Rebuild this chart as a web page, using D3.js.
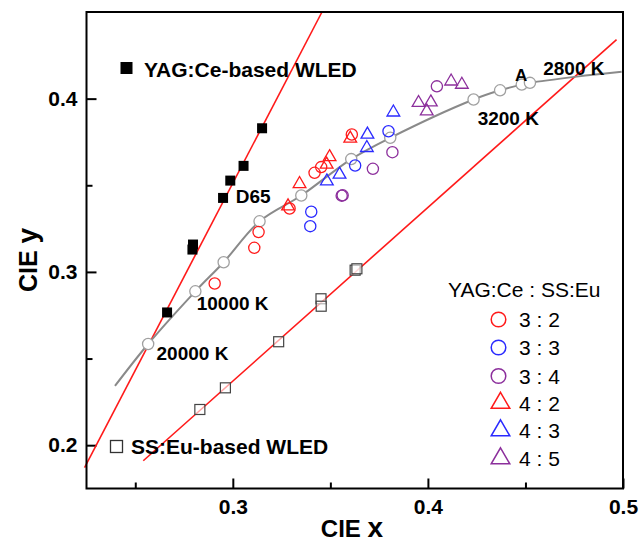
<!DOCTYPE html>
<html><head><meta charset="utf-8">
<script src="https://cdn.jsdelivr.net/npm/d3@7"></script>
<style>body{margin:0;background:#fff} text{font-family:"Liberation Sans",Arial,Helvetica,sans-serif}</style>
</head><body><svg id="c" width="641" height="544"></svg>
<script>
// ---- data ----
const xTicks = [0.3, 0.4, 0.5];
const xMinor = [0.25, 0.35, 0.45];
const yTicks = [0.2, 0.3, 0.4];
const yMinor = [0.25, 0.35];

const yagWLED = [[0.3150,0.3829],[0.3055,0.3612],[0.2987,0.3527],[0.2950,0.3427],[0.2796,0.3158],[0.2793,0.3129],[0.2663,0.2766]];
const ssWLED  = [[0.3627,0.3010],[0.3636,0.3018],[0.3452,0.2845],[0.3453,0.2802],[0.3235,0.2597],[0.2962,0.2331],[0.2831,0.2206]];
const yagLine = [[0.2240,0.1870],[0.3457,0.4500]];
const ssLine  = [[0.2541,0.1910],[0.4967,0.4341]];

const locusCurve = [[0.2396,0.2342],[0.2566,0.2584],[0.2808,0.2888],[0.2953,0.3056],[0.3137,0.3292],[0.3351,0.3441],[0.3607,0.3651],[0.3807,0.3774],[0.4234,0.3995],[0.4370,0.4048],[0.4481,0.4081],[0.4523,0.4091],[0.4763,0.4127],[0.4993,0.4155]];
const locusPoints = [[0.2566,0.2584],[0.2808,0.2888],[0.2953,0.3056],[0.3137,0.3292],[0.3351,0.3441],[0.3607,0.3651],[0.3807,0.3774],[0.4234,0.3995],[0.4370,0.4048],[0.4481,0.4081],[0.4523,0.4091]];

const s32 = [[0.3610,0.3793],[0.3419,0.3572],[0.3453,0.3605],[0.3132,0.3230],[0.3110,0.3139],[0.2907,0.2933],[0.3291,0.3366]];
const s33 = [[0.3798,0.3812],[0.3627,0.3614],[0.3402,0.3347],[0.3397,0.3264]];
const s34 = [[0.4046,0.4071],[0.3818,0.3691],[0.3718,0.3595],[0.3558,0.3440],[0.3563,0.3442]];
const s42 = [[0.3602,0.3770],[0.3496,0.3663],[0.3481,0.3620],[0.3342,0.3508],[0.3283,0.3379]];
const s43 = [[0.3823,0.3921],[0.3690,0.3793],[0.3687,0.3716],[0.3547,0.3562],[0.3482,0.3523]];
const s45 = [[0.4119,0.4100],[0.4174,0.4081],[0.3952,0.3976],[0.4015,0.3979],[0.3994,0.3927]];

const seriesNames = ["3 : 2","3 : 3","3 : 4","4 : 2","4 : 3","4 : 5"];
const tempLabels = [
  {t:"D65", x:0.3015, y:0.3398},
  {t:"10000 K", x:0.2815, y:0.2783},
  {t:"20000 K", x:0.2609, y:0.2493},
  {t:"3200 K", x:0.4255, y:0.3847},
  {t:"A", x:0.4446, y:0.4099},
  {t:"2800 K", x:0.4591, y:0.4139}
];

// ---- drawing ----
const svg = d3.select("#c");
const x = d3.scaleLinear([0.225, 0.5], [86.5, 623]);
const y = d3.scaleLinear([0.175, 0.45], [488.5, 12]);
const RED="#ff1a1a", BLUE="#2a2aff", PURPLE="#8c2f9c", GRAY="#8a8a8a";

// axes ticks
const gx = svg.append("g").attr("transform","translate(0,488.5)")
  .call(d3.axisBottom(x).tickValues(xTicks).tickSize(-10).tickPadding(11).tickFormat(d3.format(".1f")));
const gxm = svg.append("g").attr("transform","translate(0,488.5)")
  .call(d3.axisBottom(x).tickValues(xMinor).tickSize(-6).tickFormat(""));
const gy = svg.append("g").attr("transform","translate(86.5,0)")
  .call(d3.axisLeft(y).tickValues(yTicks).tickSize(-10).tickPadding(9).tickFormat(d3.format(".1f")));
const gym = svg.append("g").attr("transform","translate(86.5,0)")
  .call(d3.axisLeft(y).tickValues(yMinor).tickSize(-6).tickFormat(""));
[gx,gxm,gy,gym].forEach(g=>{
  g.select(".domain").remove();
  g.selectAll(".tick line").attr("stroke","#000").attr("stroke-width",2);
  g.selectAll(".tick text").attr("font-size",21).attr("font-weight","bold").attr("fill","#000")
    .style("font-family",'"Liberation Sans",Arial,sans-serif');
});

// lines
const line = d3.line().x(d=>x(d[0])).y(d=>y(d[1]));
svg.append("path").datum(yagLine).attr("d",line).attr("stroke",RED).attr("stroke-width",1.6).attr("fill","none");
svg.append("path").datum(ssLine).attr("d",line).attr("stroke",RED).attr("stroke-width",1.6).attr("fill","none");
svg.append("path").datum(locusCurve).attr("d",line.curve(d3.curveCatmullRom)).attr("stroke",GRAY).attr("stroke-width",2).attr("fill","none");

// locus points
svg.append("g").selectAll("circle").data(locusPoints).join("circle")
  .attr("cx",d=>x(d[0])).attr("cy",d=>y(d[1])).attr("r",5.6)
  .attr("fill","#fff").attr("stroke","#a0a0a0").attr("stroke-width",1.3);

// squares
svg.append("g").selectAll("rect").data(yagWLED).join("rect")
  .attr("x",d=>x(d[0])-5).attr("y",d=>y(d[1])-5).attr("width",10).attr("height",10).attr("fill","#000");
svg.append("g").selectAll("rect").data(ssWLED).join("rect")
  .attr("x",d=>x(d[0])-5).attr("y",d=>y(d[1])-5).attr("width",10).attr("height",10)
  .attr("fill","#fff").attr("fill-opacity",0.6).attr("stroke","#444").attr("stroke-width",1.2);

// colored series
const tri = d3.symbol().type(d3.symbolTriangle).size(70);
function circles(data,col){
  svg.append("g").selectAll("circle").data(data).join("circle")
    .attr("cx",d=>x(d[0])).attr("cy",d=>y(d[1])).attr("r",5.6)
    .attr("fill","none").attr("stroke",col).attr("stroke-width",1.3);
}
function tris(data,col){
  svg.append("g").selectAll("path").data(data).join("path")
    .attr("d",tri).attr("transform",d=>`translate(${x(d[0])},${y(d[1])})`)
    .attr("fill","none").attr("stroke",col).attr("stroke-width",1.3);
}
circles(s32,RED); circles(s33,BLUE); circles(s34,PURPLE);
tris(s42,RED); tris(s43,BLUE); tris(s45,PURPLE);

// temperature labels
svg.append("g").selectAll("text").data(tempLabels).join("text")
  .attr("x",d=>x(d.x)).attr("y",d=>y(d.y))
  .attr("font-size",d=>d.t==="A"?17:19).attr("font-weight","bold").text(d=>d.t);

// frame
svg.append("rect").attr("x",86.5).attr("y",12).attr("width",536.5).attr("height",476.5)
  .attr("fill","none").attr("stroke","#000").attr("stroke-width",2);

// WLED labels
svg.append("rect").attr("x",120.5).attr("y",62).attr("width",12).attr("height",12).attr("fill","#000");
svg.append("text").attr("x",144).attr("y",77).attr("font-size",21).attr("font-weight","bold").text("YAG:Ce-based WLED");
svg.append("rect").attr("x",110.5).attr("y",440.5).attr("width",12).attr("height",12)
  .attr("fill","#fff").attr("stroke","#333").attr("stroke-width",1.3);
svg.append("text").attr("x",131).attr("y",454).attr("font-size",21).attr("font-weight","bold").text("SS:Eu-based WLED");

// legend
svg.append("text").attr("x",448).attr("y",297).attr("font-size",21).text("YAG:Ce : SS:Eu");
const legCols=[RED,BLUE,PURPLE,RED,BLUE,PURPLE];
const legY=[319.5,347.5,376,403,430.5,458.5];
const bigTri = d3.symbol().type(d3.symbolTriangle).size(150);
seriesNames.forEach((n,i)=>{
  if(i<3){
    svg.append("circle").attr("cx",498.5).attr("cy",legY[i]).attr("r",7.3)
      .attr("fill","none").attr("stroke",legCols[i]).attr("stroke-width",1.5);
  } else {
    svg.append("path").attr("d",bigTri).attr("transform",`translate(500.5,${legY[i]})`)
      .attr("fill","none").attr("stroke",legCols[i]).attr("stroke-width",1.5);
  }
  svg.append("text").attr("x",519).attr("y",legY[i]+7.5).attr("font-size",21).text(n);
});

// axis titles
const tx = svg.append("text").attr("x",352).attr("y",537).attr("text-anchor","middle").attr("font-weight","bold");
tx.append("tspan").attr("font-size",24).text("CIE ");
tx.append("tspan").attr("font-size",28).text("x");
const ty = svg.append("text").attr("transform","translate(37,260) rotate(-90)").attr("text-anchor","middle").attr("font-weight","bold");
ty.append("tspan").attr("font-size",25).text("CIE ");
ty.append("tspan").attr("font-size",28).text("y");
</script></body></html>
